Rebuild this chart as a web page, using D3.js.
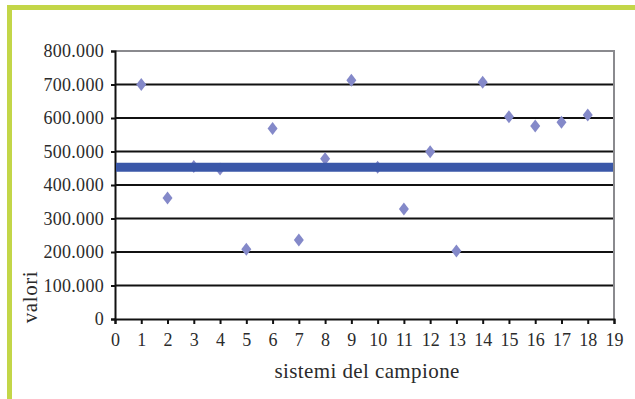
<!DOCTYPE html>
<html lang="it">
<head>
  <meta charset="UTF-8">
  <title>valori</title>
  <script src="https://cdn.jsdelivr.net/npm/d3@7"></script>
  <style>
    body { margin: 0; background: #fff; }
    svg text { font-family: "Liberation Serif", "DejaVu Serif", serif !important; fill: #2b2b2b; }
  </style>
</head>
<body>
  <script>
    // data
    const sistemi = [1, 2, 3, 4, 5, 6, 7, 8, 9, 10, 11, 12, 13, 14, 15, 16, 17, 18];
    const valori = [700000, 361000, 455000, 448000, 208000, 569000, 236000, 478000, 713000,
      453000, 328000, 499000, 203000, 707000, 604000, 576000, 587000, 609000];
    const media = 453000;
    const yTicks = [0, 100000, 200000, 300000, 400000, 500000, 600000, 700000, 800000];
    const xTicks = d3.range(0, 20);

    const width = 635, height = 399;
    const mLeft = 115, mRight = 614, mTop = 51, mBottom = 319;

    const svg = d3.select("body").append("svg")
      .attr("width", width)
      .attr("height", height);

    // green frame (top and left only)
    svg.append("rect").attr("x", 7).attr("y", 5).attr("width", width - 7).attr("height", 5).attr("fill", "#c3d648");
    svg.append("rect").attr("x", 7).attr("y", 5).attr("width", 5).attr("height", height - 5).attr("fill", "#c3d648");

    const x = d3.scaleLinear().domain([0, 19]).range([mLeft, mRight]);
    const y = d3.scaleLinear().domain([0, 800000]).range([mBottom, mTop]);

    const fmt = v => v === 0 ? "0" : d3.format(",")(v).replace(/,/g, ".");

    // gridlines
    svg.append("g").selectAll("line")
      .data(yTicks.filter(d => d > 0 && d < 800000))
      .join("line")
      .attr("x1", mLeft).attr("x2", mRight)
      .attr("y1", d => y(d)).attr("y2", d => y(d))
      .attr("stroke", "#111").attr("stroke-width", 2);

    // plot border (top, right) in grey
    svg.append("path")
      .attr("d", `M${mLeft},${mTop}H${mRight}V${mBottom}`)
      .attr("fill", "none").attr("stroke", "#8a8a8e").attr("stroke-width", 2);

    // y axis
    const yAxis = svg.append("g")
      .attr("transform", `translate(${mLeft},0)`)
      .attr("font-family", null)
      .call(d3.axisLeft(y).tickValues(yTicks).tickSize(4).tickPadding(7).tickFormat(fmt));
    yAxis.attr("font-family", null).attr("font-size", 18);
    yAxis.select(".domain").attr("stroke", "#111").attr("stroke-width", 2);
    yAxis.selectAll(".tick line").attr("stroke", "#111").attr("stroke-width", 2);
    yAxis.selectAll("text").attr("letter-spacing", 0.3);

    // x axis
    const xAxis = svg.append("g")
      .attr("transform", `translate(0,${mBottom})`)
      .call(d3.axisBottom(x).tickValues(xTicks).tickSize(5).tickPadding(9).tickFormat(d3.format("d")));
    xAxis.attr("font-family", null).attr("font-size", 18);
    xAxis.select(".domain").attr("stroke", "#111").attr("stroke-width", 2);
    xAxis.selectAll(".tick line").attr("stroke", "#111").attr("stroke-width", 2);

    // points (diamonds)
    const diamond = "M0,-6.5L5,0L0,6.5L-5,0Z";
    svg.append("g").selectAll("path")
      .data(sistemi)
      .join("path")
      .attr("d", diamond)
      .attr("transform", (d, i) => `translate(${x(d)},${y(valori[i])})`)
      .attr("fill", "#8489c9");

    // mean line
    svg.append("line")
      .attr("x1", mLeft + 1).attr("x2", mRight - 1)
      .attr("y1", y(media)).attr("y2", y(media))
      .attr("stroke", "#3a57a8").attr("stroke-width", 9);

    // axis titles
    svg.append("text")
      .attr("x", x(9.6)).attr("y", 378)
      .attr("text-anchor", "middle").attr("font-size", 21).attr("letter-spacing", 0.4)
      .text("sistemi del campione");

    svg.append("text")
      .attr("transform", "translate(37,297) rotate(-90)")
      .attr("text-anchor", "middle").attr("font-size", 21).attr("letter-spacing", 0.6)
      .text("valori");
  </script>
</body>
</html>
